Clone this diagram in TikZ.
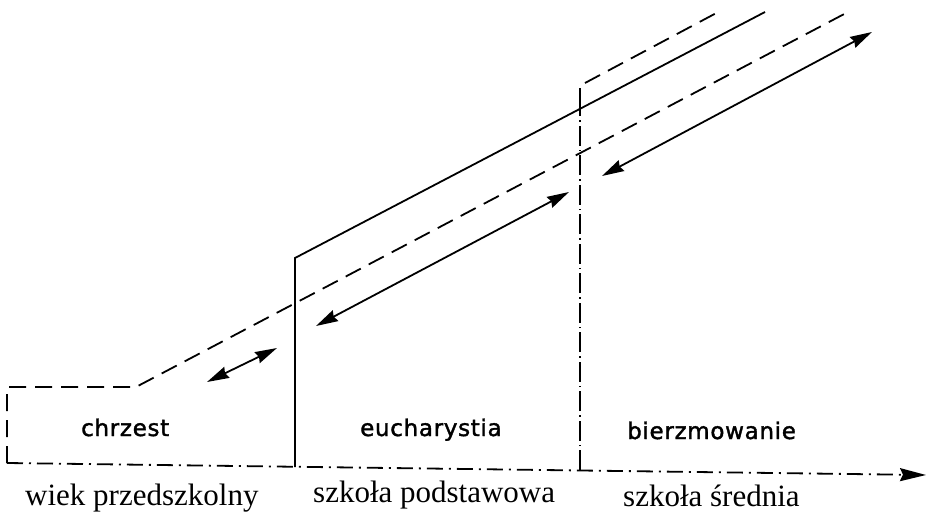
\documentclass[tikz,border=0pt]{standalone}
\usepackage{fontspec}
\setmainfont{Liberation Serif}
\newfontfamily\labfont[LetterSpace=3,FakeBold=1.6]{DejaVu Sans}
\usetikzlibrary{arrows.meta}
\begin{document}
\begin{tikzpicture}[x=1pt,y=-1pt,
  ln/.style={line width=1.8pt},
  dsh/.style={ln, dash pattern=on 17pt off 9pt},
  dshdot/.style={ln, dash pattern=on 16pt off 6pt on 2pt off 6pt},
  vdsh/.style={ln, dash pattern=on 20pt off 4pt on 1.5pt off 4pt},
  darr/.style={ln, {Stealth[length=22pt,width=12pt,inset=2pt]}-{Stealth[length=22pt,width=12pt,inset=2pt]}},
  axarr/.style={dshdot, -{Stealth[length=26pt,width=13pt,inset=3pt]}},
  sacr/.style={font={\fontsize{23}{27}\selectfont\labfont}, inner sep=0pt, anchor=base west},
  stage/.style={font=\fontsize{31}{36}\selectfont, inner sep=0pt, anchor=base west}]
\useasboundingbox (0,0) rectangle (930,514);
% key points
\coordinate (A) at (7,463);
\coordinate (B) at (7,387);
\coordinate (C) at (136,387);
\coordinate (D) at (848,12);
\coordinate (E) at (295,467);
\coordinate (F) at (295,258);
\coordinate (G) at (765,12);
\coordinate (H) at (580,470);
\coordinate (I) at (580,107);
\coordinate (J) at (580,88);
\coordinate (J2) at (585,83);
\coordinate (K) at (722,10);
\coordinate (Z) at (926,475);
% arrow ends
\coordinate (a1) at (207,382);
\coordinate (a2) at (277,348);
\coordinate (b1) at (316,326);
\coordinate (b2) at (569,192);
\coordinate (c1) at (602,176);
\coordinate (c2) at (872,32);
% axis
\draw[axarr] (A) -- (Z);
% baptism frame
\draw[dsh] (A) -- (B) -- (C) -- (D);
% eucharist
\draw[ln] (E) -- (F) -- (G);
% confirmation
\draw[vdsh] (H) -- (I);
\draw[ln] (I) -- (J);
\draw[dsh] (J2) -- (K);
% double arrows
\draw[darr] (a1) -- (a2);
\draw[darr] (b1) -- (b2);
\draw[darr] (c1) -- (c2);
% labels
\node[sacr] (chr) at (81,436) {chrzest};
\node[sacr] (euc) at (360,436) {eucharystia};
\node[sacr] (bie) at (627,439) {bierzmowanie};
\node[stage] (wp) at (25,505) {wiek przedszkolny};
\node[stage] (sp) at (313,502) {szkoła podstawowa};
\node[stage] (ss) at (623,506) {szkoła średnia};
\end{tikzpicture}
\end{document}
